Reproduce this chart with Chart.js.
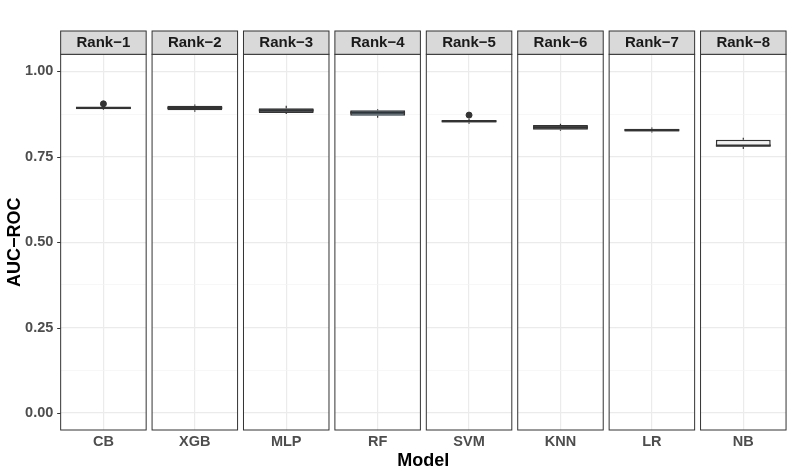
<!DOCTYPE html>
<html>
<head>
<meta charset="utf-8">
<script src="https://cdn.jsdelivr.net/npm/chart.js@4"></script>
<style>
  html, body { margin: 0; padding: 0; background: #fff; }
  #wrap { width: 793px; height: 476px; }
</style>
</head>
<body>
<div id="wrap"><canvas id="grafico" width="793" height="476"></canvas></div>
<script>
// Datos
const modelos = ['CB', 'XGB', 'MLP', 'RF', 'SVM', 'KNN', 'LR', 'NB'];
const rangos = ['Rank−1', 'Rank−2', 'Rank−3', 'Rank−4', 'Rank−5', 'Rank−6', 'Rank−7', 'Rank−8'];
const bigoteInf = [0.887, 0.882, 0.875, 0.864, 0.847, 0.826, 0.821, 0.773];
const q1 = [0.889, 0.886, 0.878, 0.870, 0.850, 0.829, 0.824, 0.779];
const mediana = [0.893, 0.893, 0.886, 0.879, 0.854, 0.836, 0.828, 0.783];
const q3 = [0.896, 0.899, 0.892, 0.886, 0.858, 0.843, 0.832, 0.800];
const bigoteSup = [0.899, 0.903, 0.899, 0.889, 0.861, 0.847, 0.836, 0.806];
const atipicos = [0.905, null, null, null, 0.872, null, null, null];
const ticksY = [0, 0.125, 0.25, 0.375, 0.5, 0.625, 0.75, 0.875, 1];
const rellenos = ['#2b3a4a', '#2f6fa8', '#2d4256', '#5aa5d8', '#333333', '#3a3a3a', '#3a3a3a', '#f2f2f2'];

const FUENTE = '"Liberation Sans", Arial, sans-serif';
const ANCHO_PANEL = 85.5;

function esMayor(v) {
  return Math.abs(v / 0.25 - Math.round(v / 0.25)) < 1e-6;
}

// Paneles, tiras y bigotes al estilo facet de ggplot
const facetas = {
  id: 'facetas',
  beforeDatasetsDraw(chart) {
    const { ctx, chartArea, scales } = chart;
    const x = scales.x, y = scales.y;
    const mitad = ANCHO_PANEL / 2;
    ctx.save();
    // tapar los huecos entre paneles
    ctx.fillStyle = '#ffffff';
    let prev = chartArea.left;
    modelos.forEach((m, i) => {
      const cx = x.getPixelForValue(i);
      ctx.fillRect(prev, chartArea.top - 1, cx - mitad - prev, chartArea.bottom - chartArea.top + 2);
      prev = cx + mitad;
    });
    ctx.fillRect(prev, chartArea.top - 1, chartArea.right - prev + 1, chartArea.bottom - chartArea.top + 2);

    // marcas del eje y
    ctx.strokeStyle = '#333333';
    ctx.lineWidth = 1;
    const izq = x.getPixelForValue(0) - mitad;
    ticksY.filter(esMayor).forEach(v => {
      const py = Math.round(y.getPixelForValue(v)) + 0.5;
      ctx.beginPath();
      ctx.moveTo(izq - 3.5, py);
      ctx.lineTo(izq, py);
      ctx.stroke();
    });

    modelos.forEach((m, i) => {
      const cx = x.getPixelForValue(i);
      const l = cx - mitad;
      // borde del panel
      ctx.strokeStyle = '#333333';
      ctx.lineWidth = 1;
      ctx.strokeRect(l, chartArea.top, ANCHO_PANEL, chartArea.bottom - chartArea.top);
      // tira superior
      const top = 31;
      ctx.fillStyle = '#d9d9d9';
      ctx.fillRect(l, top, ANCHO_PANEL, chartArea.top - top);
      ctx.strokeRect(l, top, ANCHO_PANEL, chartArea.top - top);
      ctx.fillStyle = '#1a1a1a';
      ctx.font = 'bold 15px ' + FUENTE;
      ctx.textAlign = 'center';
      ctx.textBaseline = 'middle';
      ctx.fillText(rangos[i], cx, (top + chartArea.top) / 2 + 0.5);

      // bigotes
      ctx.strokeStyle = '#333333';
      ctx.lineWidth = 1.2;
      ctx.beginPath();
      ctx.moveTo(cx, y.getPixelForValue(q3[i]));
      ctx.lineTo(cx, y.getPixelForValue(bigoteSup[i]));
      ctx.moveTo(cx, y.getPixelForValue(q1[i]));
      ctx.lineTo(cx, y.getPixelForValue(bigoteInf[i]));
      ctx.stroke();
    });
    ctx.restore();
  },
  afterDatasetsDraw(chart) {
    const { ctx, scales } = chart;
    const y = scales.y;
    const barras = chart.getDatasetMeta(0).data;
    ctx.save();
    ctx.strokeStyle = '#333333';
    ctx.lineWidth = 2.2;
    modelos.forEach((m, i) => {
      const b = barras[i];
      const py = y.getPixelForValue(mediana[i]);
      ctx.beginPath();
      ctx.moveTo(b.x - b.width / 2, py);
      ctx.lineTo(b.x + b.width / 2, py);
      ctx.stroke();
    });
    ctx.restore();
  }
};

const ctx = document.getElementById('grafico').getContext('2d');
const grafico = new Chart(ctx, {
  type: 'bar',
  data: {
    labels: modelos,
    datasets: [{
      label: 'caja',
      data: modelos.map((m, i) => [q1[i], q3[i]]),
      backgroundColor: rellenos,
      borderColor: '#333333',
      borderWidth: 1.5,
      borderSkipped: false,
      barPercentage: 0.6,
      categoryPercentage: 1,
    }, {
      type: 'line',
      label: 'atipicos',
      data: atipicos,
      showLine: false,
      pointRadius: 3,
      pointHoverRadius: 3,
      pointBackgroundColor: '#333333',
      pointBorderColor: '#333333',
    }],
  },
  options: {
    responsive: false,
    animation: false,
    events: [],
    layout: { padding: { top: 54.3, right: 3.3, left: 0, bottom: 0 } },
    plugins: {
      legend: { display: false },
      tooltip: { enabled: false },
    },
    scales: {
      x: {
        offset: true,
        grid: {
          offset: false,
          color: '#ebebeb',
          lineWidth: 1.2,
          drawTicks: false,
        },
        border: { display: false },
        ticks: {
          autoSkip: false,
          maxRotation: 0,
          padding: 3,
          color: '#4d4d4d',
          font: { family: FUENTE, size: 14.5, weight: 'bold' },
        },
        title: {
          display: true,
          text: 'Model',
          color: '#000000',
          padding: { top: 0, bottom: 4 },
          font: { family: FUENTE, size: 18, weight: 'bold' },
        },
        afterFit(scale) { scale.height = 46; },
      },
      y: {
        min: -0.05,
        max: 1.05,
        afterBuildTicks(scale) {
          scale.ticks = ticksY.map(v => ({ value: v }));
        },
        afterFit(scale) { scale.width = 57.7; },
        grid: {
          drawTicks: false,
          color: c => esMayor(c.tick.value) ? '#ebebeb' : '#f4f4f4',
          lineWidth: c => esMayor(c.tick.value) ? 1.2 : 0.7,
        },
        border: { display: false },
        ticks: {
          padding: 4.4,
          color: '#4d4d4d',
          font: { family: FUENTE, size: 14.5, weight: 'bold' },
          callback: v => esMayor(v) ? v.toFixed(2) : '',
        },
        title: {
          display: true,
          text: 'AUC−ROC',
          color: '#000000',
          padding: { top: 4, bottom: 0 },
          font: { family: FUENTE, size: 18, weight: 'bold' },
        },
      },
    },
  },
  plugins: [facetas],
});
</script>
</body>
</html>
